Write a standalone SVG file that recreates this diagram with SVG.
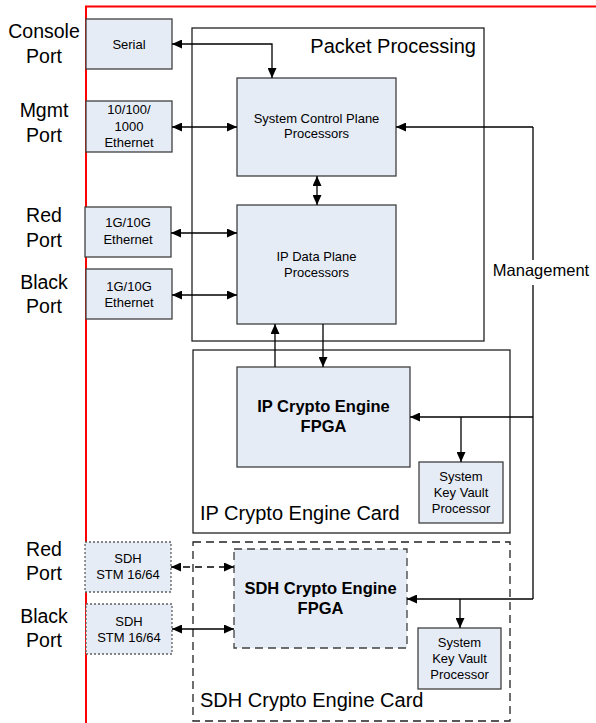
<svg xmlns="http://www.w3.org/2000/svg" width="596" height="723" viewBox="0 0 596 723">
<defs>
<style>
text{font-family:"Liberation Sans",Arial,sans-serif;fill:#000}
.port{font-size:19.5px;text-anchor:middle}
.big{font-size:20px}
.sm{font-size:13px;text-anchor:middle}
.bold{font-size:16.5px;font-weight:bold;text-anchor:middle}
.node{fill:#E6ECF6;stroke:#404040;stroke-width:1.3}
.frame{fill:none;stroke:#222;stroke-width:1.3}
.dash{stroke-dasharray:8,5}
.dot{stroke-dasharray:2,2;stroke:#606060}
.c{fill:none;stroke:#000;stroke-width:1.3}
</style>
<marker id="ah" markerUnits="userSpaceOnUse" markerWidth="10" markerHeight="9" refX="10" refY="4.5" orient="auto-start-reverse">
<path d="M0,0 L10,4.5 L0,9 z" fill="#000"/>
</marker>
</defs>
<rect width="596" height="723" fill="#fff"/>
<g id="border">
<path d="M86,723 V6.5 H596" fill="none" stroke="#f00" stroke-width="2"/>
</g>
<g id="port-labels">
<text class="port" x="44" y="38">Console</text>
<text class="port" x="44" y="63">Port</text>
<text class="port" x="44" y="117">Mgmt</text>
<text class="port" x="44" y="142">Port</text>
<text class="port" x="44" y="222">Red</text>
<text class="port" x="44" y="247">Port</text>
<text class="port" x="44" y="289">Black</text>
<text class="port" x="44" y="313">Port</text>
<text class="port" x="44" y="556">Red</text>
<text class="port" x="44" y="580">Port</text>
<text class="port" x="44" y="623">Black</text>
<text class="port" x="44" y="647">Port</text>
</g>
<g id="packet-processing">
<rect class="frame" x="192" y="28" width="292" height="313"/>
<text class="big" x="476" y="53" text-anchor="end">Packet Processing</text>
</g>
<g id="ip-card">
<rect class="frame" x="193" y="350" width="317" height="183" stroke="#404040"/>
<text class="big" x="200" y="520">IP Crypto Engine Card</text>
</g>
<g id="sdh-card">
<rect class="frame dash" x="193" y="542" width="317" height="179" stroke="#404040"/>
<text class="big" x="200" y="707">SDH Crypto Engine Card</text>
</g>
<g id="serial">
<rect class="node" x="86" y="19" width="86" height="50"/>
<text class="sm" x="129" y="49">Serial</text>
</g>
<g id="mgmt-eth">
<rect class="node" x="86" y="101" width="86" height="51"/>
<text class="sm" x="129" y="114">10/100/</text>
<text class="sm" x="129" y="131">1000</text>
<text class="sm" x="129" y="147">Ethernet</text>
</g>
<g id="red-eth">
<rect class="node" x="85" y="207" width="86" height="50"/>
<text class="sm" x="128" y="227">1G/10G</text>
<text class="sm" x="128" y="244">Ethernet</text>
</g>
<g id="black-eth">
<rect class="node" x="86" y="269" width="86" height="50"/>
<text class="sm" x="129" y="291">1G/10G</text>
<text class="sm" x="129" y="307">Ethernet</text>
</g>
<g id="scp">
<rect class="node" x="237" y="78" width="159" height="98"/>
<text class="sm" x="316.5" y="123">System Control Plane</text>
<text class="sm" x="316.5" y="138">Processors</text>
</g>
<g id="ipdp">
<rect class="node" x="237" y="205" width="159" height="119"/>
<text class="sm" x="316.5" y="261">IP Data Plane</text>
<text class="sm" x="316.5" y="277">Processors</text>
</g>
<g id="ip-fpga">
<rect class="node" x="237" y="367" width="173" height="100"/>
<text class="bold" x="323.5" y="412">IP Crypto Engine</text>
<text class="bold" x="323.5" y="432">FPGA</text>
</g>
<g id="ip-kv">
<rect class="node" x="419" y="462" width="84" height="61"/>
<text class="sm" x="461" y="481">System</text>
<text class="sm" x="461" y="497">Key Vault</text>
<text class="sm" x="461" y="513">Processor</text>
</g>
<g id="sdh-red">
<rect class="node dot" x="85" y="542" width="86" height="50"/>
<text class="sm" x="128" y="563">SDH</text>
<text class="sm" x="128" y="579">STM 16/64</text>
</g>
<g id="sdh-black">
<rect class="node dot" x="86" y="604" width="86" height="50"/>
<text class="sm" x="129" y="626">SDH</text>
<text class="sm" x="129" y="642">STM 16/64</text>
</g>
<g id="sdh-fpga">
<rect class="node dash" x="234" y="549" width="173" height="99"/>
<text class="bold" x="320.5" y="594">SDH Crypto Engine</text>
<text class="bold" x="320.5" y="614">FPGA</text>
</g>
<g id="sdh-kv">
<rect class="node" x="418" y="628" width="83" height="61"/>
<text class="sm" x="459.5" y="647">System</text>
<text class="sm" x="459.5" y="663">Key Vault</text>
<text class="sm" x="459.5" y="679">Processor</text>
</g>
<g id="management-label">
<text x="541" y="276" font-size="16.5" text-anchor="middle">Management</text>
</g>
<g id="connectors">
<path class="c" d="M172,44 H272 V78" marker-start="url(#ah)" marker-end="url(#ah)"/>
<path class="c" d="M172,127 H237" marker-start="url(#ah)" marker-end="url(#ah)"/>
<path class="c" d="M171,233 H237" marker-start="url(#ah)" marker-end="url(#ah)"/>
<path class="c" d="M172,295 H237" marker-start="url(#ah)" marker-end="url(#ah)"/>
<path class="c" d="M317,176 V205" marker-start="url(#ah)" marker-end="url(#ah)"/>
<path class="c" d="M275,367 V324" marker-end="url(#ah)"/>
<path class="c" d="M323,324 V367" marker-end="url(#ah)"/>
<path class="c" d="M533,127 H396" marker-end="url(#ah)"/>
<path class="c" d="M533,127 V260"/>
<path class="c" d="M533,285 V599"/>
<path class="c" d="M533,417 H410" marker-end="url(#ah)"/>
<path class="c" d="M461,417 V462" marker-end="url(#ah)"/>
<path class="c" d="M533,599 H407" marker-end="url(#ah)"/>
<path class="c" d="M460,599 V628" marker-end="url(#ah)"/>
<path class="c" d="M171,567 H234" stroke-dasharray="7,5" marker-start="url(#ah)" marker-end="url(#ah)"/>
<path class="c" d="M172,629 H234" marker-start="url(#ah)" marker-end="url(#ah)"/>
</g>
</svg>
